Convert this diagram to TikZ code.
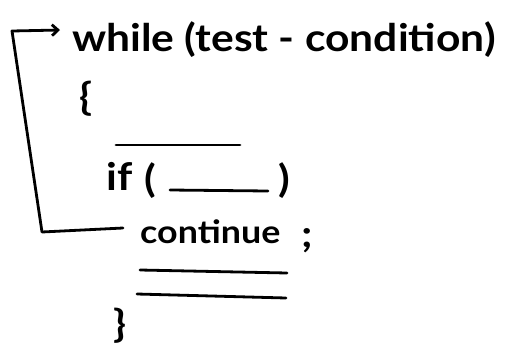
\documentclass[tikz,border=0pt]{standalone}
\usepackage{fontspec}
\setmainfont{Lato}[FakeStretch=1.12]
\usetikzlibrary{arrows.meta}
\begin{document}
\begin{tikzpicture}[x=1pt,y=-1pt,
  txt/.style={inner sep=0pt,anchor=base west,font=\fontsize{38}{44}\selectfont\bfseries},
  smalltxt/.style={txt,font=\fontsize{32}{38}\selectfont\bfseries},
  ink/.style={line width=2.8pt,line cap=round,line join=round,black}]
\useasboundingbox (0,0) rectangle (512,349);
\node[txt] (while) at (72,51) {while (test - condition)};
\node[txt] (lbrace) at (79,110) {\{};
\node[txt] (ifkw) at (106,190) {if};
\node[txt] (lparen) at (144,192) {(};
\node[txt] (rparen) at (278,192) {)};
\node[smalltxt] (cont) at (140,243) {continue};
\node[txt] (semi) at (301,247) {;};
\node[txt] (rbrace) at (113,337) {\}};
% blanks
\coordinate (b1s) at (116,145); \coordinate (b1e) at (240,145);
\coordinate (b2s) at (170,190); \coordinate (b2e) at (268,191);
\coordinate (b3s) at (140,270); \coordinate (b3e) at (287,273);
\coordinate (b4s) at (137,294); \coordinate (b4e) at (286,298);
\draw[ink] (b1s) -- (b1e);
\draw[ink] (b2s) -- (b2e);
\draw[ink] (b3s) -- (b3e);
\draw[ink] (b4s) -- (b4e);
% loop-back connector
\coordinate (start) at (123,228);
\coordinate (bot) at (42,232);
\coordinate (top) at (12,31);
\coordinate (tip) at (60,30);
\draw[ink,-{Straight Barb[length=6pt,width=11pt]}] (start) -- (bot) -- (top) -- (tip);
\end{tikzpicture}
\end{document}
